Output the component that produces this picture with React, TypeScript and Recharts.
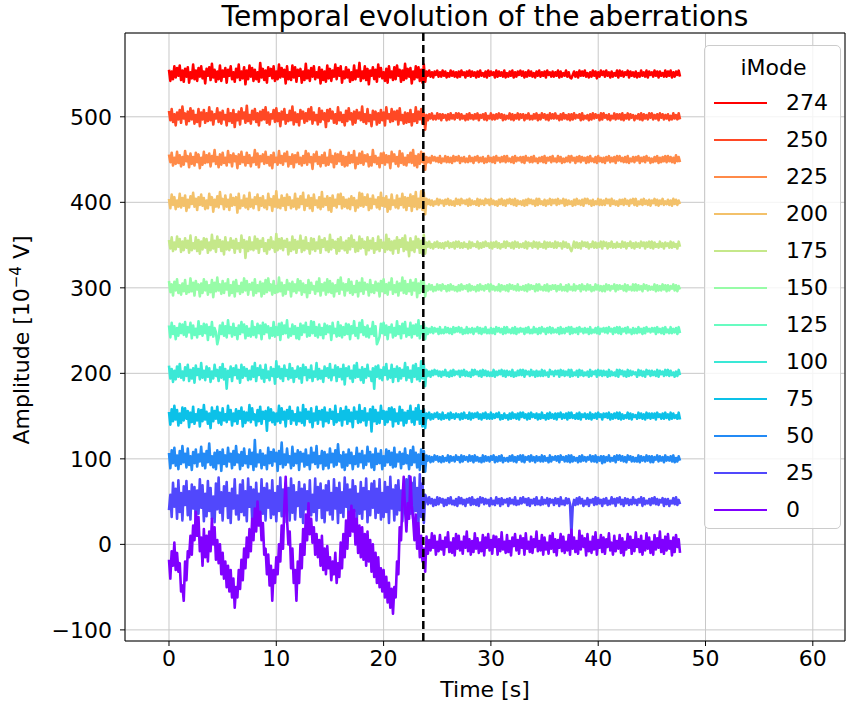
import React from 'react';
import { LineChart, Line, XAxis, YAxis, CartesianGrid, ReferenceLine } from 'recharts';

// 8 Hz recording
const SAMPLE_STEP = 0.125;
const SWITCH_TIME = 23.7;

const xTicks = [0, 10, 20, 30, 40, 50, 60];
const yTicks = [-100, 0, 100, 200, 300, 400, 500];

const modeNames = ['274', '250', '225', '200', '175', '150', '125', '100', '75', '50', '25', '0'];
const modeOffsets = [550, 500, 450, 400, 350, 300, 250, 200, 150, 100, 50, 0];
const modeColors = [
  '#ff0000', '#ff4824', '#ff8a48', '#f3c16a', '#c5e88a', '#97fca7',
  '#68fcc1', '#3ae8d6', '#0cc1e8', '#238af5', '#5148fc', '#8000ff',
];

// amplitude around each offset, before the switch (t = 0 .. 23.875)
const pre274 = [
  5, -8, 3, -6, 9, -4, 7, -2, 10, -7, 4, -9,
  6, -3, 8, -10, 2, -5, 11, -6, 4, -8, 7, -3,
  9, -5, 3, -11, 6, -2, 8, -7, 12, -4, 5, -9,
  3, -6, 10, -8, 4, -3, 7, -10, 5, -2, 9, -6,
  2, -9, 6, -4, 11, -7, 3, -5, 8, -12, 4, -6,
  10, -3, 7, -8, 5, -6, 2, -9, 13, -4, 6, -7,
  4, -10, 8, -2, 6, -5, 9, -8, 3, -6, 11, -4,
  7, -3, 5, -11, 9, -6, 2, -7, 10, -4, 8, -9,
  5, -2, 6, -10, 3, -7, 12, -5, 4, -8, 7, -3,
  9, -6, 2, -4, 8, -11, 5, -7, 3, -9, 10, -5,
  6, -8, 4, -3, 11, -6, 7, -2, 9, -10, 3, -5,
  8, -4, 5, -9, 2, -7, 10, -6, 4, -3, 13, -8,
  3, -5, 9, -7, 6, -12, 4, -2, 8, -6, 5, -9,
  11, -3, 7, -5, 2, -8, 6, -10, 9, -4, 3, -7,
  8, -6, 10, -2, 5, -9, 4, -7, 12, -5, 6, -3,
  7, -11, 3, -6, 9, -4, 8, -8, 5, -10, 11, -9,
];
const pre250 = [
  7, -4, 9, -6, 3, -10, 5, -3, 8, -7, 12, -2,
  4, -9, 6, -5, 10, -3, 7, -8, 2, -6, 9, -11,
  5, -3, 8, -7, 4, -5, 11, -4, 6, -9, 3, -2,
  10, -6, 5, -8, 7, -3, 2, -10, 9, -5, 4, -7,
  8, -12, 3, -4, 6, -9, 10, -2, 5, -7, 13, -5,
  2, -8, 7, -3, 9, -6, 4, -10, 6, -4, 8, -3,
  11, -7, 5, -9, 3, -2, 8, -6, 10, -5, 4, -11,
  6, -3, 9, -8, 2, -5, 7, -4, 12, -9, 5, -6,
  3, -10, 8, -2, 6, -7, 4, -5, 9, -3, 11, -8,
  5, -4, 2, -9, 10, -6, 7, -3, 4, -12, 8, -5,
  9, -2, 6, -7, 3, -8, 11, -4, 5, -6, 2, -10,
  7, -5, 10, -3, 4, -9, 6, -7, 8, -2, 5, -4,
  12, -6, 3, -8, 9, -5, 2, -11, 7, -3, 6, -9,
  4, -7, 8, -4, 5, -10, 11, -2, 3, -6, 9, -5,
  6, -3, 7, -9, 10, -4, 2, -8, 5, -7, 4, -6,
  8, -10, 3, -5, 11, -7, 6, -3, 9, -8, 4, -15,
];
const pre225 = [
  6, -3, 8, -7, 2, -5, 9, -4, 5, -8, 3, -6,
  10, -2, 4, -9, 7, -5, 3, -7, 8, -3, 6, -10,
  2, -6, 9, -4, 5, -3, 7, -8, 4, -2, 11, -5,
  3, -9, 6, -6, 8, -4, 2, -7, 10, -3, 5, -8,
  7, -2, 4, -10, 6, -5, 9, -3, 3, -7, 8, -4,
  5, -8, 2, -3, 11, -6, 7, -9, 4, -2, 6, -5,
  9, -4, 3, -7, 5, -10, 8, -3, 2, -6, 10, -4,
  4, -6, 7, -2, 9, -8, 3, -5, 6, -9, 5, -3,
  8, -5, 2, -7, 4, -4, 10, -6, 7, -3, 3, -11,
  6, -2, 9, -5, 3, -8, 5, -4, 8, -7, 2, -6,
  11, -3, 4, -9, 7, -5, 6, -2, 9, -6, 4, -8,
  3, -7, 8, -4, 5, -3, 10, -10, 2, -5, 7, -4,
  9, -6, 5, -2, 6, -8, 3, -7, 11, -3, 4, -5,
  2, -9, 7, -4, 8, -6, 5, -3, 4, -10, 9, -2,
  6, -5, 3, -8, 10, -4, 7, -6, 2, -7, 5, -3,
  8, -4, 11, -7, 4, -9, 6, -5, 9, -3, 7, -12,
];
const pre200 = [
  4, -7, 9, -3, 6, -8, 2, -5, 10, -6, 5, -4,
  8, -10, 3, -6, 7, -2, 11, -5, 4, -9, 6, -3,
  9, -4, 5, -8, 2, -7, 10, -3, 6, -11, 3, -5,
  7, -6, 12, -2, 4, -8, 8, -5, 3, -9, 9, -4,
  5, -3, 6, -12, 10, -7, 2, -4, 8, -6, 4, -8,
  11, -5, 3, -7, 6, -2, 9, -9, 5, -4, 7, -6,
  2, -8, 10, -3, 4, -10, 7, -5, 13, -6, 3, -7,
  8, -4, 5, -9, 9, -3, 6, -7, 2, -5, 10, -8,
  4, -6, 7, -2, 11, -9, 3, -4, 8, -7, 5, -10,
  9, -3, 2, -6, 6, -8, 12, -5, 4, -3, 7, -9,
  5, -11, 8, -4, 3, -6, 9, -2, 10, -7, 6, -5,
  3, -7, 4, -8, 7, -3, 5, -10, 2, -6, 11, -4,
  10, -5, 6, -3, 9, -9, 4, -7, 8, -2, 3, -6,
  6, -8, 11, -4, 5, -5, 7, -11, 3, -8, 9, -3,
  2, -6, 8, -7, 4, -3, 10, -6, 6, -9, 5, -4,
  9, -10, 7, -5, 12, -8, 4, -6, 13, -9, 11, -14,
];
const pre175 = [
  6, -4, 9, -7, 3, -5, 10, -2, 7, -8, 4, -6,
  8, -3, 5, -9, 11, -6, 2, -4, 9, -7, 6, -10,
  4, -5, 8, -3, 7, -9, 3, -6, 12, -4, 5, -8,
  10, -2, 6, -7, 4, -11, 9, -5, 3, -6, 8, -3,
  5, -9, 7, -4, 2, -8, 11, -3, 6, -15, 4, -7,
  9, -5, 3, -6, 10, -4, 7, -9, 5, -2, 8, -7,
  2, -10, 6, -5, 9, -3, 4, -8, 13, -6, 7, -4,
  8, -6, 5, -2, 7, -11, 3, -7, 10, -5, 6, -9,
  4, -3, 11, -8, 5, -6, 9, -4, 2, -10, 8, -5,
  7, -7, 3, -4, 10, -9, 6, -2, 8, -6, 4, -8,
  12, -5, 6, -3, 4, -10, 7, -7, 9, -4, 3, -6,
  5, -9, 8, -5, 11, -2, 6, -8, 3, -7, 10, -4,
  7, -3, 4, -11, 9, -6, 5, -4, 8, -9, 2, -5,
  10, -7, 6, -3, 3, -8, 12, -5, 7, -6, 4, -10,
  5, -4, 9, -9, 6, -2, 8, -7, 11, -5, 3, -13,
  8, -6, 4, -8, 10, -3, 7, -9, 5, -11, 12, -10,
];
const pre150 = [
  8, -5, 4, -9, 7, -3, 10, -6, 3, -8, 5, -4,
  9, -7, 2, -5, 11, -4, 6, -9, 8, -2, 4, -10,
  5, -6, 10, -3, 7, -8, 3, -5, 9, -11, 6, -4,
  12, -3, 4, -7, 8, -6, 5, -2, 10, -9, 3, -6,
  7, -10, 9, -4, 2, -7, 6, -5, 11, -3, 8, -8,
  4, -2, 6, -9, 10, -6, 3, -4, 7, -10, 5, -7,
  9, -5, 11, -3, 4, -8, 8, -6, 2, -5, 12, -4,
  6, -9, 3, -7, 9, -2, 5, -10, 7, -4, 4, -6,
  10, -3, 8, -8, 5, -5, 3, -11, 9, -6, 6, -2,
  2, -7, 7, -4, 11, -9, 4, -3, 6, -8, 10, -5,
  8, -6, 5, -10, 3, -4, 9, -7, 12, -2, 5, -9,
  4, -3, 10, -6, 7, -8, 2, -5, 8, -10, 6, -4,
  11, -7, 6, -2, 4, -9, 9, -5, 3, -6, 7, -3,
  5, -10, 8, -4, 10, -6, 4, -8, 6, -2, 11, -7,
  3, -5, 7, -9, 5, -3, 12, -6, 8, -7, 4, -4,
  9, -8, 6, -3, 10, -11, 5, -6, 8, -4, 7, -10,
];
const pre125 = [
  6, -8, 9, -4, 5, -10, 3, -6, 8, -3, 7, -5,
  10, -7, 4, -2, 9, -9, 6, -5, 2, -8, 11, -4,
  5, -6, 8, -3, 7, -11, 4, -5, 10, -7, 3, -2,
  -16, -9, 6, -4, 9, -6, 5, -8, 12, -3, 4, -7,
  8, -5, 3, -10, 6, -4, 10, -2, 7, -9, 5, -6,
  2, -7, 11, -5, 4, -8, 8, -3, 6, -10, 9, -4,
  7, -2, 5, -9, 3, -6, 10, -7, 4, -5, 8, -11,
  9, -4, 6, -3, 12, -8, 2, -6, 7, -4, 5, -9,
  3, -10, 8, -5, 6, -2, 9, -7, 4, -6, 11, -3,
  10, -6, 4, -8, 7, -5, 3, -9, 8, -4, 6, -2,
  5, -11, 9, -3, 2, -7, 10, -6, 6, -8, 4, -5,
  8, -4, 7, -10, 5, -3, 11, -6, 3, -9, 9, -2,
  12, -5, 4, -7, 6, -8, 2, -4, 10, -6, 5, -16,
  -12, -7, 8, -3, 9, -5, 6, -10, 4, -2, 7, -8,
  3, -6, 11, -4, 5, -9, 8, -3, 10, -7, 2, -5,
  9, -8, 6, -4, 7, -6, 12, -9, 5, -3, 8, -10,
];
const pre100 = [
  9, -6, 5, -10, 3, -7, 8, -4, 11, -5, 2, -8,
  7, -3, 10, -9, 4, -6, 6, -11, 9, -2, 5, -7,
  12, -5, 3, -8, 8, -4, 6, -10, 2, -6, 10, -3,
  4, -9, 7, -5, 11, -7, 5, -18, 3, -4, 8, -9,
  6, -2, 9, -6, 4, -11, 10, -5, 7, -3, 5, -8,
  3, -7, 8, -4, 12, -9, 6, -2, 9, -6, 4, -10,
  10, -5, 2, -8, 7, -3, 5, -12, 14, -4, 8, -6,
  5, -9, 9, -3, 4, -7, 11, -5, 6, -10, 3, -4,
  8, -6, 6, -11, 10, -2, 7, -8, 4, -5, 9, -9,
  2, -4, 12, -7, 5, -6, 3, -10, 8, -3, 6, -5,
  11, -8, 4, -2, 9, -9, 7, -4, 5, -7, 10, -13,
  6, -3, 8, -6, 3, -10, 9, -5, 12, -4, 4, -8,
  7, -11, 5, -5, 10, -3, 2, -9, 6, -18, 8, -4,
  9, -6, 4, -8, 7, -2, 11, -7, 3, -5, 10, -10,
  5, -4, 8, -9, 6, -6, 4, -3, 12, -8, 7, -5,
  3, -10, 9, -4, 11, -7, 6, -9, 14, -6, 10, -15,
];
const pre75 = [
  5, -10, 8, -6, 12, -4, 7, -11, 3, -8, 10, -5,
  9, -3, 6, -13, 4, -7, 11, -9, 2, -5, 8, -12,
  7, -6, 13, -4, 5, -9, 3, -14, 10, -6, 6, -3,
  11, -8, 4, -10, 9, -5, 2, -7, 12, -4, 7, -11,
  3, -6, 8, -9, 6, -3, 10, -12, 5, -8, 4, -5,
  13, -7, 9, -4, 2, -11, 7, -6, 11, -9, 5, -3,
  6, -17, 10, -5, 8, -7, 4, -10, 3, -6, 12, -8,
  9, -4, 5, -12, 7, -3, 11, -9, 6, -5, 2, -10,
  10, -6, 4, -8, 13, -11, 8, -3, 5, -7, 9, -13,
  3, -5, 11, -9, 6, -4, 7, -12, 10, -6, 4, -8,
  8, -3, 5, -10, 12, -7, 2, -5, 9, -11, 6, -4,
  11, -9, 7, -6, 4, -13, 10, -3, 5, -8, 13, -7,
  6, -5, 9, -11, 3, -4, 8, -18, 11, -6, 7, -9,
  4, -8, 12, -3, 6, -10, 5, -7, 9, -4, 10, -12,
  8, -6, 3, -9, 11, -5, 7, -11, 4, -8, 6, -3,
  12, -7, 5, -10, 9, -4, 13, -9, 6, -12, 8, -14,
];
const pre50 = [
  7, -11, 10, -5, 13, -8, 4, -12, 9, -6, 15, -4,
  6, -10, 12, -7, 3, -13, 8, -5, 11, -9, 5, -3,
  14, -8, 6, -11, 9, -4, 18, -7, 3, -10, 7, -12,
  10, -5, 8, -14, 11, -6, 4, -9, 13, -3, 6, -11,
  9, -7, 15, -4, 5, -12, 8, -8, 12, -5, 3, -10,
  11, -6, 7, -13, 22, -9, 5, -4, 10, -11, 6, -7,
  4, -12, 13, -5, 8, -8, 11, -3, 7, -14, 9, -6,
  19, -10, 5, -7, 12, -4, 3, -11, 14, -8, 6, -5,
  10, -13, 8, -3, 6, -9, 11, -7, 4, -12, 13, -4,
  7, -6, 15, -10, 3, -5, 9, -12, 8, -8, 5, -11,
  12, -4, 6, -9, 10, -7, 17, -3, 4, -10, 8, -13,
  5, -8, 11, -5, 7, -12, 3, -6, 13, -9, 6, -4,
  9, -11, 4, -7, 14, -3, 8, -10, 5, -13, 12, -6,
  6, -5, 10, -12, 3, -8, 11, -4, 9, -7, 7, -10,
  13, -9, 5, -3, 8, -11, 6, -6, 12, -5, 4, -12,
  10, -7, 14, -4, 7, -10, 5, -13, 11, -6, 9, -15,
];
const pre25 = [
  -10, 8, -18, 22, -6, 15, -20, 25, -12, 10, -22, 18,
  -4, 24, -16, 12, -21, 20, -8, 17, -25, 13, -14, 26,
  -7, 19, -23, 9, -17, 24, -11, 16, -20, 6, -24, 21,
  -9, 28, -13, 11, -22, 18, -5, 23, -19, 10, -25, 15,
  -8, 26, -15, 7, -21, 20, -12, 25, -16, 12, -23, 27,
  -6, 17, -20, 14, -25, 22, -10, 9, -18, 26, -14, 16,
  -22, 21, -7, 13, -19, 25, -15, 10, -23, 18, -11, 28,
  -17, 14, -24, 21, -9, 16, -22, 27, -13, 19, -21, 11,
  -5, 23, -18, 15, -25, 20, -9, 12, -20, 25, -16, 8,
  -12, 27, -22, 17, -7, 21, -19, 13, -24, 19, -10, 24,
  -15, 10, -21, 26, -8, 16, -25, 22, -13, 11, -18, 28,
  -6, 20, -23, 14, -17, 25, -11, 18, -22, 9, -14, 23,
  -20, 16, -9, 27, -24, 12, -16, 21, -7, 24, -19, 15,
  -13, 26, -21, 10, -18, 23, -12, 17, -25, 29, -8, 14,
  -22, 19, -15, 25, -10, 13, -23, 20, -6, 26, -17, 30,
  -14, 22, -20, 28, -11, 16, -24, 32, -18, 21, -25, 8,
];
const pre0 = [
  -18, -40, -8, -25, 2, -30, -10, -32, -22, -55, -48, -66,
  -20, -42, -8, -15, 10, -12, 22, 5, 38, 10, 32, -8,
  8, -25, 18, -15, 10, -20, 15, -8, 30, 0, 20, -18,
  5, -22, 0, -35, -10, -40, -20, -50, -25, -55, -30, -62,
  -40, -74, -50, -62, -30, -52, -18, -42, -5, -28, 8, -15,
  18, -8, 30, 5, 42, 15, 50, 22, 38, 5, 25, -12,
  -5, -35, -12, -48, -25, -66, -30, -45, -15, -35, 0, -20,
  22, -5, 45, 79, 30, 0, 15, -28, -5, -45, -30, -66,
  -20, -45, 0, -28, 18, -12, 35, 5, 48, 12, 30, 2,
  20, -12, 12, -15, 5, -25, 10, -30, -5, -35, -2, -28,
  -15, -42, -20, -35, -10, -45, -22, -38, 2, -28, 12, -15,
  28, -5, 38, 10, 45, 15, 40, 0, 30, -10, 22, -15,
  20, -18, 12, -25, 15, -20, 5, -32, 0, -38, -10, -45,
  -15, -50, -28, -55, -30, -62, -38, -68, -45, -74, -52, -81,
  -50, -62, -20, -35, 20, 5, 50, 79, 40, 15, 48, 30,
  79, 45, 30, 5, 35, -5, 25, -15, 10, -20, -5, -32,
];

// amplitude around each offset, after the switch (t = 24 .. 47.625)
const post274 = [
  3, -2, 4, -3, 2, -4, 3, -1, 4, -3, 2, -3,
  4, -2, 3, -4, 1, -3, 4, -2, 3, -3, 2, -4,
  3, -3, 4, -1, 2, -4, 3, -2, 4, -3, 3, -2,
  2, -4, 3, -3, 4, -2, 1, -3, 3, -4, 4, -2,
  3, -1, 2, -4, 4, -3, 3, -2, 2, -3, 4, -4,
  1, -3, 3, -2, 4, -4, 2, -3, 3, -1, 4, -2,
  3, -4, 2, -3, 4, -2, 3, -3, 1, -4, 3, -2,
  4, -3, 2, -2, 3, -4, 4, -1, 2, -3, 3, -3,
  2, -2, 4, -4, 3, -3, 1, -2, 4, -3, 2, -4,
  -5, -1, 3, -3, 2, -4, 4, -2, 3, -2, 4, -3,
  1, -4, 2, -3, 4, -2, 3, -5, 2, -3, 4, -1,
  3, -3, 4, -2, 2, -4, 3, -3, 1, -2, 4, -4,
  4, -2, 3, -3, 2, -1, 4, -4, 3, -2, 2, -3,
  3, -4, 1, -3, 4, -2, 2, -3, 4, -4, 3, -1,
  2, -3, 4, -2, 3, -4, 3, -2, 1, -3, 4, -3,
  3, -2, 4, -4, 2, -3, 3, -1, 4, -3,
];
const post250 = [
  2, -4, 3, -2, 4, -3, 1, -3, 4, -2, 3, -4,
  3, -1, 2, -4, 3, -3, 4, -2, 2, -3, 4, -1,
  4, -3, 3, -2, 1, -4, 3, -3, 4, -2, 2, -3,
  3, -2, 4, -4, 2, -1, 3, -3, 4, -4, 1, -2,
  4, -3, 2, -3, 3, -2, 4, -1, 3, -4, 2, -3,
  1, -2, 4, -3, 3, -4, 2, -2, 4, -3, 3, -1,
  3, -4, 2, -2, 4, -3, 1, -3, 3, -2, 4, -4,
  2, -3, 4, -1, 3, -3, 2, -4, 4, -2, 3, -2,
  4, -2, 1, -4, 3, -3, 4, -2, 2, -3, 3, -4,
  3, -3, 4, -2, 2, -1, 3, -4, 4, -3, 1, -2,
  2, -4, 3, -3, 4, -2, 3, -1, 2, -4, 4, -3,
  4, -1, 2, -3, 3, -4, 1, -2, 4, -3, 3, -2,
  3, -3, 4, -4, 2, -2, 4, -3, 3, -1, 2, -4,
  1, -2, 3, -3, 4, -4, 3, -2, 2, -3, 4, -1,
  4, -3, 2, -2, 3, -4, 4, -1, 3, -3, 2, -2,
  3, -4, 1, -3, 4, -2, 2, -3, 4, -3,
];
const post225 = [
  3, -3, 2, -4, 4, -1, 3, -2, 2, -3, 4, -4,
  1, -2, 4, -3, 3, -3, 2, -4, 4, -2, 3, -1,
  4, -4, 2, -2, 3, -3, 1, -3, 4, -2, 2, -4,
  3, -1, 4, -3, 2, -2, 3, -4, 1, -3, 4, -2,
  2, -3, 3, -4, 4, -1, 2, -3, 3, -2, 4, -3,
  4, -2, 1, -3, 3, -4, 4, -2, 2, -1, 3, -3,
  3, -4, 4, -1, 2, -3, 3, -3, 4, -2, 1, -4,
  2, -2, 3, -3, 4, -4, 2, -1, 3, -3, 4, -2,
  1, -3, 4, -2, 3, -4, 1, -3, 2, -2, 4, -3,
  4, -1, 2, -4, 3, -2, 4, -3, 3, -1, 2, -4,
  3, -3, 4, -2, 1, -3, 3, -4, 4, -2, 2, -3,
  2, -4, 3, -1, 4, -3, 2, -2, 3, -4, 4, -1,
  4, -2, 2, -3, 3, -3, 4, -4, 1, -2, 3, -3,
  3, -1, 4, -4, 2, -2, 3, -3, 4, -1, 2, -4,
  1, -3, 3, -2, 4, -4, 2, -3, 3, -2, 4, -3,
  4, -2, 3, -3, 2, -4, 5, -2, 3, -3,
];
const post200 = [
  4, -2, 3, -3, 2, -4, 1, -2, 4, -3, 3, -1,
  2, -4, 3, -2, 4, -3, 2, -3, 1, -4, 4, -2,
  3, -3, 4, -1, 2, -2, 3, -4, 4, -3, 2, -2,
  1, -3, 4, -4, 3, -2, 2, -3, 4, -1, 3, -3,
  4, -2, 2, -3, 1, -4, 3, -2, 4, -3, 2, -4,
  3, -1, 4, -2, 3, -3, 4, -4, 2, -2, 1, -3,
  2, -4, 3, -3, 4, -1, 3, -2, 2, -4, 4, -3,
  4, -2, 1, -3, 3, -4, 2, -2, 4, -3, 3, -1,
  3, -3, 4, -2, 2, -1, 4, -4, 3, -3, 2, -2,
  1, -4, 3, -3, 4, -2, 2, -3, 3, -4, 4, -1,
  4, -2, 2, -4, 3, -3, 1, -2, 4, -3, 3, -3,
  2, -3, 4, -1, 3, -4, 4, -2, 2, -3, 1, -4,
  3, -2, 3, -3, 4, -2, 2, -4, 3, -1, 4, -3,
  4, -4, 1, -2, 3, -3, 4, -2, 2, -3, 3, -4,
  2, -1, 4, -3, 3, -4, 2, -2, 4, -3, 1, -2,
  3, -3, 2, -4, 4, -2, 3, -3, 2, -2,
];
const post175 = [
  3, -2, 4, -3, 1, -4, 3, -2, 4, -3, 2, -3,
  2, -4, 3, -1, 4, -3, 2, -2, 3, -4, 4, -2,
  4, -3, 2, -3, 3, -2, 1, -4, 4, -3, 3, -1,
  1, -2, 4, -4, 2, -3, 3, -2, 4, -1, 2, -3,
  3, -4, 3, -2, 4, -3, 2, -4, 1, -2, 4, -3,
  4, -1, 2, -3, 3, -4, 4, -2, 3, -3, 1, -2,
  2, -3, 4, -4, 3, -1, 2, -3, 4, -2, 3, -4,
  3, -2, 1, -3, 4, -4, 3, -2, 3, -2, 2, -3,
  4, -3, 3, -1, 2, -4, 4, -2, 3, -3, 1, -4,
  -7, -2, 4, -3, 3, -3, 2, -4, 4, -1, 3, -2,
  3, -4, 1, -2, 4, -3, 3, -3, 2, -2, 4, -4,
  4, -1, 3, -4, 2, -2, 4, -3, 1, -3, 3, -2,
  1, -3, 4, -2, 3, -4, 2, -1, 4, -3, 2, -4,
  3, -2, 2, -3, 4, -1, 3, -4, 3, -2, 4, -3,
  4, -4, 3, -2, 1, -3, 4, -2, 2, -4, 3, -1,
  2, -3, 4, -3, 3, -2, 1, -4, 4, -2,
];
const post150 = [
  2, -3, 4, -2, 3, -4, 1, -3, 4, -2, 3, -3,
  4, -1, 2, -4, 3, -3, 4, -2, 2, -3, 1, -4,
  3, -3, 4, -2, 2, -1, 3, -4, 4, -3, 2, -2,
  1, -4, 3, -3, 4, -2, 2, -3, 3, -1, 4, -4,
  4, -2, 2, -3, 1, -3, 4, -4, 3, -2, 2, -3,
  3, -4, 4, -1, 3, -2, 2, -3, 4, -3, 1, -2,
  2, -3, 3, -4, 4, -2, 3, -1, 2, -4, 4, -3,
  4, -2, 1, -3, 3, -3, 4, -4, 2, -2, 3, -1,
  3, -4, 2, -2, 4, -3, 1, -3, 3, -4, 4, -2,
  1, -3, 4, -3, 2, -1, 3, -4, 4, -2, 2, -3,
  4, -2, 3, -4, 1, -3, 4, -2, 3, -3, 2, -4,
  2, -4, 4, -2, 3, -3, 2, -1, 4, -4, 3, -2,
  3, -1, 2, -3, 4, -4, 3, -2, 1, -3, 4, -3,
  4, -3, 3, -2, 2, -4, 4, -1, 3, -3, 2, -2,
  1, -2, 4, -4, 3, -3, 2, -3, 4, -2, 3, -4,
  3, -3, 2, -1, 4, -3, 3, -4, 2, -2,
];
const post125 = [
  3, -4, 2, -2, 4, -3, 3, -1, 2, -4, 4, -3,
  1, -3, 4, -2, 3, -3, 2, -4, 4, -2, 3, -1,
  4, -2, 3, -4, 1, -3, 4, -3, 2, -2, 3, -4,
  2, -1, 4, -3, 3, -4, 2, -2, 4, -3, 1, -3,
  3, -3, 2, -4, 4, -1, 3, -2, 2, -4, 4, -3,
  4, -2, 1, -3, 3, -3, 4, -4, 2, -2, 3, -1,
  2, -4, 3, -2, 4, -3, 1, -3, 4, -2, 2, -4,
  3, -3, 4, -1, 2, -4, 3, -2, 4, -3, 3, -2,
  1, -2, 3, -4, 4, -3, 2, -3, 3, -1, 4, -4,
  4, -3, 2, -2, 3, -4, 4, -1, 2, -3, 3, -2,
  2, -4, 4, -3, 1, -2, 3, -3, 4, -4, 2, -1,
  3, -2, 3, -3, 4, -1, 2, -4, 3, -2, 4, -3,
  4, -4, 2, -1, 3, -3, 4, -2, 1, -4, 3, -3,
  2, -3, 4, -2, 2, -4, 3, -3, 4, -1, 2, -2,
  3, -1, 3, -4, 4, -2, 2, -3, 3, -4, 4, -2,
  1, -3, 4, -3, 2, -2, 3, -4, 4, -3,
];
const post100 = [
  4, -3, 2, -4, 3, -2, 4, -1, 3, -3, 2, -4,
  2, -2, 4, -3, 1, -4, 3, -3, 4, -2, 2, -1,
  3, -4, 3, -2, 4, -3, 2, -3, 1, -4, 4, -2,
  4, -1, 2, -3, 3, -4, 4, -2, 3, -3, 2, -3,
  1, -3, 4, -4, 2, -2, 3, -1, 4, -3, 3, -4,
  3, -2, 2, -3, 4, -4, 1, -3, 3, -2, 4, -2,
  4, -4, 3, -1, 2, -3, 4, -2, 2, -4, 3, -3,
  2, -3, 4, -3, 3, -2, 1, -4, 4, -1, 2, -3,
  3, -1, 3, -4, 4, -2, 3, -3, 2, -2, 4, -4,
  4, -3, 1, -2, 3, -4, 4, -2, 3, -3, 1, -2,
  2, -4, 4, -3, 2, -1, 3, -4, 4, -2, 3, -3,
  3, -2, 2, -4, 4, -3, 2, -2, 1, -3, 4, -4,
  4, -1, 3, -3, 2, -4, 4, -3, 3, -2, 2, -1,
  1, -4, 4, -2, 3, -3, 2, -4, 4, -1, 3, -3,
  3, -2, 2, -3, 4, -4, 3, -1, 2, -3, 4, -2,
  4, -3, 3, -2, 1, -4, 2, -3, 4, -2,
];
const post75 = [
  3, -2, 4, -4, 2, -3, 3, -1, 4, -3, 2, -4,
  4, -3, 1, -2, 3, -4, 4, -2, 2, -3, 3, -1,
  2, -4, 3, -3, 4, -2, 1, -3, 4, -4, 3, -2,
  3, -1, 4, -3, 2, -4, 3, -2, 4, -3, 2, -3,
  4, -3, 2, -2, 3, -1, 4, -4, 1, -3, 3, -2,
  1, -4, 3, -3, 4, -2, 2, -3, 3, -4, 4, -1,
  4, -2, 2, -4, 3, -3, 4, -1, 2, -2, 3, -4,
  2, -3, 4, -2, 1, -4, 3, -3, 4, -2, 2, -3,
  3, -4, 3, -1, 4, -3, 2, -2, 3, -4, 4, -2,
  4, -2, 1, -3, 3, -3, 4, -4, 2, -1, 3, -3,
  2, -3, 4, -4, 2, -2, 3, -3, 4, -1, 2, -4,
  3, -1, 3, -2, 4, -4, 2, -3, 3, -2, 4, -3,
  4, -4, 2, -3, 1, -2, 4, -3, 3, -4, 2, -1,
  1, -3, 4, -2, 3, -3, 2, -4, 4, -2, 3, -3,
  3, -2, 3, -4, 4, -1, 2, -3, 3, -3, 4, -2,
  2, -4, 4, -3, 3, -2, 1, -3, 4, -4,
];
const post50 = [
  4, -2, 3, -4, 2, -3, 4, -1, 3, -3, 2, -4,
  3, -3, 1, -2, 4, -4, 3, -2, 2, -3, 4, -1,
  2, -4, 4, -3, 3, -1, 2, -3, 4, -2, 3, -4,
  4, -2, 2, -3, 1, -4, 4, -3, 3, -2, 2, -3,
  3, -1, 4, -4, 2, -3, 3, -2, 4, -4, 1, -2,
  1, -3, 3, -2, 4, -3, 2, -4, 3, -1, 4, -3,
  4, -4, 2, -1, 3, -3, 4, -2, 2, -4, 3, -2,
  2, -3, 4, -3, 3, -2, 1, -4, 4, -3, 2, -1,
  3, -2, 3, -4, 4, -1, 2, -3, 3, -3, 4, -4,
  4, -3, 2, -2, 1, -4, 3, -3, 4, -2, 2, -3,
  2, -1, 4, -3, 3, -3, 4, -4, 2, -2, 3, -5,
  3, -4, 2, -2, 4, -3, 1, -2, 3, -4, 4, -1,
  4, -2, 3, -3, 2, -4, 4, -1, 3, -3, 2, -3,
  1, -3, 4, -4, 3, -2, 2, -3, 4, -2, 3, -4,
  3, -4, 2, -1, 4, -3, 3, -2, 2, -4, 4, -2,
  2, -2, 3, -3, 4, -4, 1, -3, 3, -2,
];
const post25 = [
  4, -3, 5, -2, 3, -5, 2, -4, 5, -3, 4, -1,
  3, -5, 2, -4, 4, -2, 5, -3, 1, -4, 3, -5,
  5, -2, 4, -3, 2, -5, 3, -1, 4, -4, 5, -3,
  2, -4, 3, -5, 5, -1, 4, -3, 3, -2, 2, -5,
  4, -3, 1, -4, 5, -2, 3, -5, 4, -3, 2, -1,
  3, -5, 4, -2, 2, -3, 5, -4, 1, -3, 4, -2,
  5, -1, 3, -4, 4, -5, 2, -2, 3, -4, 5, -3,
  1, -4, 5, -3, 2, -2, 4, -5, 3, -1, 2, -4,
  4, -2, 3, -5, 5, -3, 1, -4, 4, -2, 3, -3,
  -38, -6, 2, -4, 4, -3, 5, -2, 3, -5, 1, -3,
  4, -5, 2, -1, 3, -4, 5, -3, 4, -2, 2, -5,
  3, -2, 4, -4, 1, -3, 5, -2, 3, -5, 4, -1,
  5, -3, 2, -5, 4, -2, 3, -4, 2, -3, 5, -2,
  2, -4, 3, -1, 5, -5, 4, -3, 1, -2, 3, -4,
  4, -2, 5, -3, 3, -4, 2, -1, 4, -5, 3, -3,
  3, -5, 1, -2, 4, -3, 5, -4, 2, -3,
];
const post0 = [
  9, -11, 5, -7, 13, -4, 10, -12, 3, -8, 11, -6,
  4, -12, 8, -3, 14, -9, 2, -10, 7, -13, 12, -5,
  10, -7, 3, -11, 9, -4, 15, -8, 6, -12, 4, -9,
  13, -5, 7, -10, 2, -8, 11, -13, 8, -4, 12, -7,
  5, -11, 10, -3, 9, -12, 6, -8, 14, -6, 3, -10,
  11, -9, 4, -13, 8, -2, 12, -7, 5, -11, 10, -4,
  7, -12, 13, -5, 3, -9, 9, -10, 6, -3, 15, -8,
  4, -7, 11, -12, 8, -6, 2, -11, 10, -5, 13, -9,
  6, -13, 5, -4, 12, -8, 9, -10, 3, -7, 11, -12,
  17, -5, 8, -9, 4, -11, 16, -6, 10, -3, 7, -13,
  12, -8, 3, -10, 9, -6, 14, -12, 5, -4, 11, -9,
  8, -11, 6, -3, 13, -7, 2, -12, 10, -8, 4, -5,
  11, -10, 7, -13, 3, -6, 12, -4, 9, -11, 5, -8,
  14, -3, 6, -9, 10, -12, 4, -7, 13, -5, 8, -10,
  3, -12, 11, -6, 7, -4, 15, -9, 5, -11, 9, -7,
  12, -5, 4, -13, 8, -9, 11, -3, 6, -10,
];

const modeAmps = [
  [...pre274, ...post274], [...pre250, ...post250], [...pre225, ...post225],
  [...pre200, ...post200], [...pre175, ...post175], [...pre150, ...post150],
  [...pre125, ...post125], [...pre100, ...post100], [...pre75, ...post75],
  [...pre50, ...post50], [...pre25, ...post25], [...pre0, ...post0],
];

const rows = modeAmps[11].map((_, i) => {
  const row: Record<string, number> = { t: i * SAMPLE_STEP };
  modeNames.forEach((name, k) => {
    row['m' + name] = modeOffsets[k] + modeAmps[k][i];
  });
  return row;
});

const font = '"DejaVu Sans", sans-serif';
const tickStyle = { fill: '#000', fontSize: 22, fontFamily: font };

const fmt = (v: number) => (v < 0 ? '\u2212' + Math.abs(v) : String(v));

export default function App() {
  return (
    <div style={{ position: 'absolute', left: 0, top: 0, width: 846, height: 710, background: '#fff', fontFamily: font }}>
      <LineChart width={846} height={710} data={rows} margin={{ top: 33, right: 1, bottom: 0, left: 0 }}>
        <CartesianGrid stroke="#c8c8c8" strokeWidth={1} />
        <XAxis
          type="number"
          dataKey="t"
          domain={[-4.1, 63]}
          ticks={xTicks}
          allowDataOverflow
          height={69}
          stroke="#000"
          tick={tickStyle}
          tickSize={5}
          tickMargin={4}
        />
        <YAxis
          type="number"
          domain={[-113, 598]}
          ticks={yTicks}
          allowDataOverflow
          width={125}
          stroke="#000"
          tick={tickStyle}
          tickSize={5}
          tickMargin={8}
          tickFormatter={fmt}
        />
        {modeNames.map((name, k) => (
          <Line
            key={name}
            type="linear"
            dataKey={'m' + name}
            stroke={modeColors[k]}
            strokeWidth={2.6}
            strokeLinejoin="round"
            dot={false}
            isAnimationActive={false}
          />
        ))}
        <ReferenceLine x={SWITCH_TIME} stroke="#000" strokeWidth={2.5} strokeDasharray="8 4" />
        <ReferenceLine y={598} stroke="#000" strokeWidth={1} />
        <ReferenceLine x={63} stroke="#000" strokeWidth={1} />
      </LineChart>

      <div style={{ position: 'absolute', left: 0, width: 970, top: 0, textAlign: 'center', fontSize: 28, lineHeight: '34px' }}>
        Temporal evolution of the aberrations
      </div>
      <div style={{ position: 'absolute', left: 125, width: 720, top: 676, textAlign: 'center', fontSize: 22, lineHeight: '28px' }}>
        Time [s]
      </div>
      <div
        style={{
          position: 'absolute',
          left: 22 - 150,
          top: 340 - 14,
          width: 300,
          height: 28,
          lineHeight: '28px',
          fontSize: 22,
          textAlign: 'center',
          transform: 'rotate(-90deg)',
        }}
      >
        Amplitude [10<sup style={{ fontSize: 15, verticalAlign: 'super', lineHeight: 0 }}>{'\u2212'}4</sup> V]
      </div>

      <div
        style={{
          position: 'absolute',
          left: 704,
          top: 45,
          width: 137,
          height: 484,
          background: 'rgba(255,255,255,0.8)',
          border: '1px solid #cccccc',
          borderRadius: 5,
          boxSizing: 'border-box',
        }}
      >
        <div style={{ position: 'absolute', left: 0, width: 137, top: 8, textAlign: 'center', fontSize: 22, lineHeight: '28px' }}>
          iMode
        </div>
        {modeNames.map((name, k) => (
          <div key={name} style={{ position: 'absolute', left: 0, top: 43 + k * 37, height: 28, width: 137 }}>
            <div style={{ position: 'absolute', left: 9, top: 13, width: 53, height: 2, background: modeColors[k] }} />
            <div style={{ position: 'absolute', left: 81, top: 0, fontSize: 22, lineHeight: '28px' }}>{name}</div>
          </div>
        ))}
      </div>
    </div>
  );
}
